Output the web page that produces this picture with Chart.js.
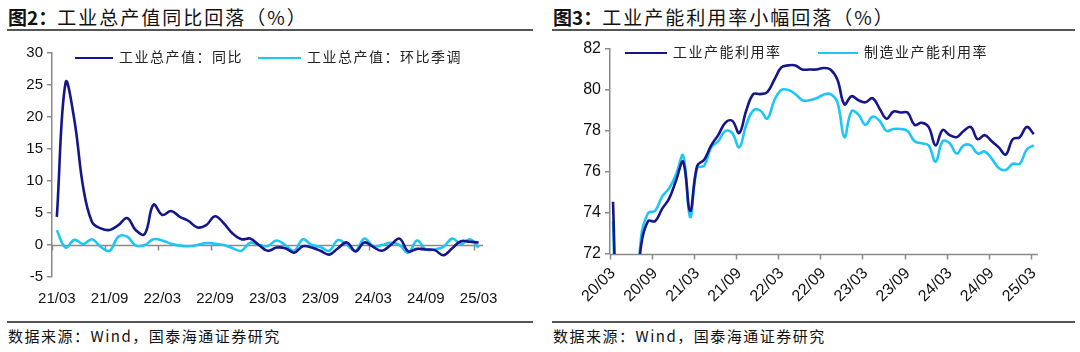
<!DOCTYPE html>
<html lang="zh-CN">
<head>
<meta charset="UTF-8">
<title>工业总产值同比回落 / 工业产能利用率小幅回落</title>
<script src="https://cdn.jsdelivr.net/npm/chart.js@4.4.0/dist/chart.umd.min.js"></script>
<style>
  body { margin: 0; background: #fff; width: 1080px; height: 352px; position: relative; overflow: hidden;
         font-family: "Noto Sans CJK SC", sans-serif; color: #111; }
  .title { position: absolute; top: 3px; font-size: 19px; white-space: nowrap; letter-spacing: 2px; }
  .title b { font-weight: 700; letter-spacing: 0; }
  .rule { position: absolute; height: 2px; background: #555; }
  .box { position: absolute; top: 35px; width: 540px; height: 282px; }
  .legend { position: absolute; font-size: 14px; white-space: nowrap; color: #222; letter-spacing: 1.5px; }
  .legend span.ln { display: inline-block; height: 2.5px; vertical-align: middle; margin-right: 6px; }
  .legend .item { position: absolute; top: 0; }
  .source { position: absolute; top: 325px; font-size: 15px; white-space: nowrap; letter-spacing: 1.5px; }
</style>
</head>
<body>

<div class="title" style="left:8px"><b>图2：</b>工业总产值同比回落（%）</div>
<div class="title" style="left:553px"><b>图3：</b>工业产能利用率小幅回落（%）</div>
<div class="rule" style="left:7px;width:526px;top:29px"></div>
<div class="rule" style="left:552px;width:523px;top:29px"></div>

<div class="box" style="left:0"><canvas id="left"></canvas></div>
<div class="box" style="left:540px"><canvas id="right"></canvas></div>

<div class="legend" id="legLeft" style="left:0;top:46px"></div>
<div class="legend" id="legRight" style="left:540px;top:41px"></div>

<div class="rule" style="left:7px;width:526px;top:321px"></div>
<div class="rule" style="left:552px;width:523px;top:321px"></div>
<div class="source" style="left:8px">数据来源：Wind，国泰海通证券研究</div>
<div class="source" style="left:553px">数据来源：Wind，国泰海通证券研究</div>

<script>
// ---- data (monthly) ----
// left: 21/03 .. 25/03
var leftTicks = ['21/03', '21/09', '22/03', '22/09', '23/03', '23/09', '24/03', '24/09', '25/03'];
var outputYoy = [4.4, 25.4, 19.5, 9.0, 3.6, 2.6, 2.35, 3.1, 4.2, 2.3, 1.7, 6.3, 4.7, 5.3, 4.4, 3.75, 2.75,
  3.1, 4.5, 3.4, 1.8, 0.9, 1.0, 0.0, -0.9, -0.4, -0.5, -1.2, -0.2, -0.4, -0.9, -1.5, -0.5, 0.4, -1.0,
  0.4, -0.3, -0.9, 0.0, 1.0, -1.0, -0.6, -0.7, -0.8, -1.6, -0.5, 0.6, 0.5, 0.4];
var outputMomSa = [2.3, -0.4, 0.8, 0.15, 0.9, -0.3, -0.9, 1.3, 1.3, -0.1, 0.0, 0.9, 0.7, 0.2, -0.1, -0.2,
  0.0, 0.3, 0.2, 0.0, -0.5, -0.9, 0.35, 0.0, -0.15, 0.7, 0.0, -0.9, 0.9, 0.0, -0.3, -0.9, 0.8, 0.0, -0.9,
  1.0, -0.15, 0.0, 0.35, 0.0, -1.2, 0.7, -0.7, -0.7, -0.3, 1.0, 0.15, 0.9, -0.4];

// right: 20/03 .. 25/03
var rightTicks = ['20/03', '20/09', '21/03', '21/09', '22/03', '22/09', '23/03', '23/09', '24/03', '24/09', '25/03'];
var capUtilTotal = [74.55, 64.5, 65.5, 68.5, 72.4, 73.6, 73.6, 74.2, 74.7, 75.6, 76.5, 74.1, 76.3, 76.6,
  77.3, 77.8, 78.4, 78.5, 77.9, 79.0, 79.8, 79.8, 79.9, 80.5, 81.1, 81.2, 81.2, 81.0, 81.0, 81.0, 81.07,
  81.0, 80.5, 79.3, 79.7, 79.5, 79.4, 79.6, 79.1, 78.6, 78.95, 78.9, 78.9, 78.3, 78.4, 78.2, 77.3, 78.05,
  77.8, 77.7, 78.0, 78.2, 77.6, 77.8, 77.5, 77.2, 76.85, 77.6, 77.7, 78.2, 77.85];
var capUtilManu = [73.6, 63.0, 64.0, 67.5, 72.8, 74.0, 74.1, 74.8, 75.2, 75.9, 76.8, 73.8, 76.2, 76.3,
  77.2, 77.5, 78.0, 77.9, 77.2, 78.3, 79.0, 79.0, 78.6, 79.5, 80.0, 80.0, 79.8, 79.5, 79.5, 79.6, 79.77,
  79.8, 79.4, 77.7, 78.96, 78.8, 78.3, 78.7, 78.5, 78.0, 78.1, 78.1, 78.0, 77.5, 77.4, 77.3, 76.5, 77.5,
  77.4, 76.9, 77.3, 77.3, 76.9, 77.0, 76.65, 76.2, 76.1, 76.4, 76.4, 77.1, 77.3];

var navy = '#16168a';
var cyan = '#1ec6f7';
var axisColor = '#8a8a8a';

function pts(arr) {
  return arr.map(function (v, i) { return { x: i, y: v }; });
}

// tick marks under the category axis (drawn half a month before each label, like the original)
var xTickMarks = {
  id: 'xTickMarks',
  beforeDatasetsDraw: function (chart, args, opts) {
    var ctx = chart.ctx, xs = chart.scales.x, ys = chart.scales.y, area = chart.chartArea;
    var base = Math.round(ys.getPixelForValue(opts.base)) + 0.5;
    ctx.save();
    ctx.strokeStyle = axisColor;
    ctx.lineWidth = 1.5;
    ctx.beginPath();
    ctx.moveTo(area.left, base);
    ctx.lineTo(area.right, base);
    for (var v = 0; v <= xs.max; v += 6) {
      var px = Math.round(xs.getPixelForValue(v - opts.shift)) + 0.5;
      ctx.moveTo(px, base);
      ctx.lineTo(px, base + 5);
    }
    ctx.stroke();
    ctx.restore();
  }
};

function lineSet(label, data, color) {
  return { label: label, data: pts(data), borderColor: color, backgroundColor: color,
           borderWidth: 2.6, pointRadius: 0, tension: 0.4, fill: false };
}

function makeChart(id, cfg) {
  return new Chart(document.getElementById(id), {
    type: 'line',
    data: { datasets: cfg.datasets },
    plugins: [xTickMarks],
    options: {
      responsive: true,
      maintainAspectRatio: false,
      animation: false,
      layout: { padding: cfg.padding },
      plugins: {
        legend: { display: false },
        tooltip: { enabled: false },
        xTickMarks: { base: cfg.base, shift: cfg.shift }
      },
      scales: {
        x: {
          type: 'linear',
          min: cfg.xmin, max: cfg.xmax,
          border: { display: false },
          grid: { display: false },
          afterBuildTicks: function (s) {
            s.ticks = cfg.tickLabels.map(function (t, k) { return { value: k * 6 }; });
          },
          afterFit: function (s) { s.height = cfg.xHeight; },
          ticks: {
            autoSkip: false,
            maxRotation: cfg.rot, minRotation: cfg.rot,
            padding: cfg.xPad,
            color: '#111',
            font: { family: 'Liberation Sans, Arial, sans-serif', size: cfg.fontSize },
            callback: function (v) { return cfg.tickLabels[v / 6]; }
          }
        },
        y: {
          min: cfg.ymin, max: cfg.ymax,
          border: { display: true, color: axisColor, width: 1.5 },
          grid: { display: true, drawOnChartArea: false, drawTicks: true, tickLength: 5, color: axisColor, lineWidth: 1.5 },
          afterFit: function (s) { s.width = cfg.yWidth; },
          ticks: {
            stepSize: cfg.step,
            padding: 4,
            color: '#111',
            font: { family: 'Liberation Sans, Arial, sans-serif', size: cfg.fontSize }
          }
        }
      }
    }
  });
}

var leftChart = makeChart('left', {
  datasets: [lineSet('工业总产值：同比', outputYoy, navy), lineSet('工业总产值：环比季调', outputMomSa, cyan)],
  padding: { top: 18, right: 57, bottom: 0, left: 0 },
  xmin: -0.55, xmax: 48.5, shift: 0.5, base: 0,
  tickLabels: leftTicks, rot: 0, xPad: 5, xHeight: 40,
  ymin: -5, ymax: 30, step: 5, yWidth: 52, fontSize: 15
});

var rightChart = makeChart('right', {
  datasets: [lineSet('工业产能利用率', capUtilTotal, navy), lineSet('制造业产能利用率', capUtilManu, cyan)],
  padding: { top: 14, right: 42, bottom: 0, left: 0 },
  xmin: -0.43, xmax: 60.6, shift: 0.43, base: 72,
  tickLabels: rightTicks, rot: 45, xPad: 2, xHeight: 63,
  ymin: 72, ymax: 82, step: 2, yWidth: 70, fontSize: 16
});

// html legends inside the plot area, built from the datasets
function buildLegend(elId, chart, spots) {
  var el = document.getElementById(elId);
  chart.data.datasets.forEach(function (ds, k) {
    var item = document.createElement('div');
    item.className = 'item';
    item.style.left = spots[k].left + 'px';
    var ln = document.createElement('span');
    ln.className = 'ln';
    ln.style.width = spots[k].len + 'px';
    ln.style.background = ds.borderColor;
    item.appendChild(ln);
    item.appendChild(document.createTextNode(ds.label));
    el.appendChild(item);
  });
}
buildLegend('legLeft', leftChart, [{ left: 75, len: 38 }, { left: 258, len: 43 }]);
buildLegend('legRight', rightChart, [{ left: 85, len: 42 }, { left: 278, len: 40 }]);
</script>
</body>
</html>
